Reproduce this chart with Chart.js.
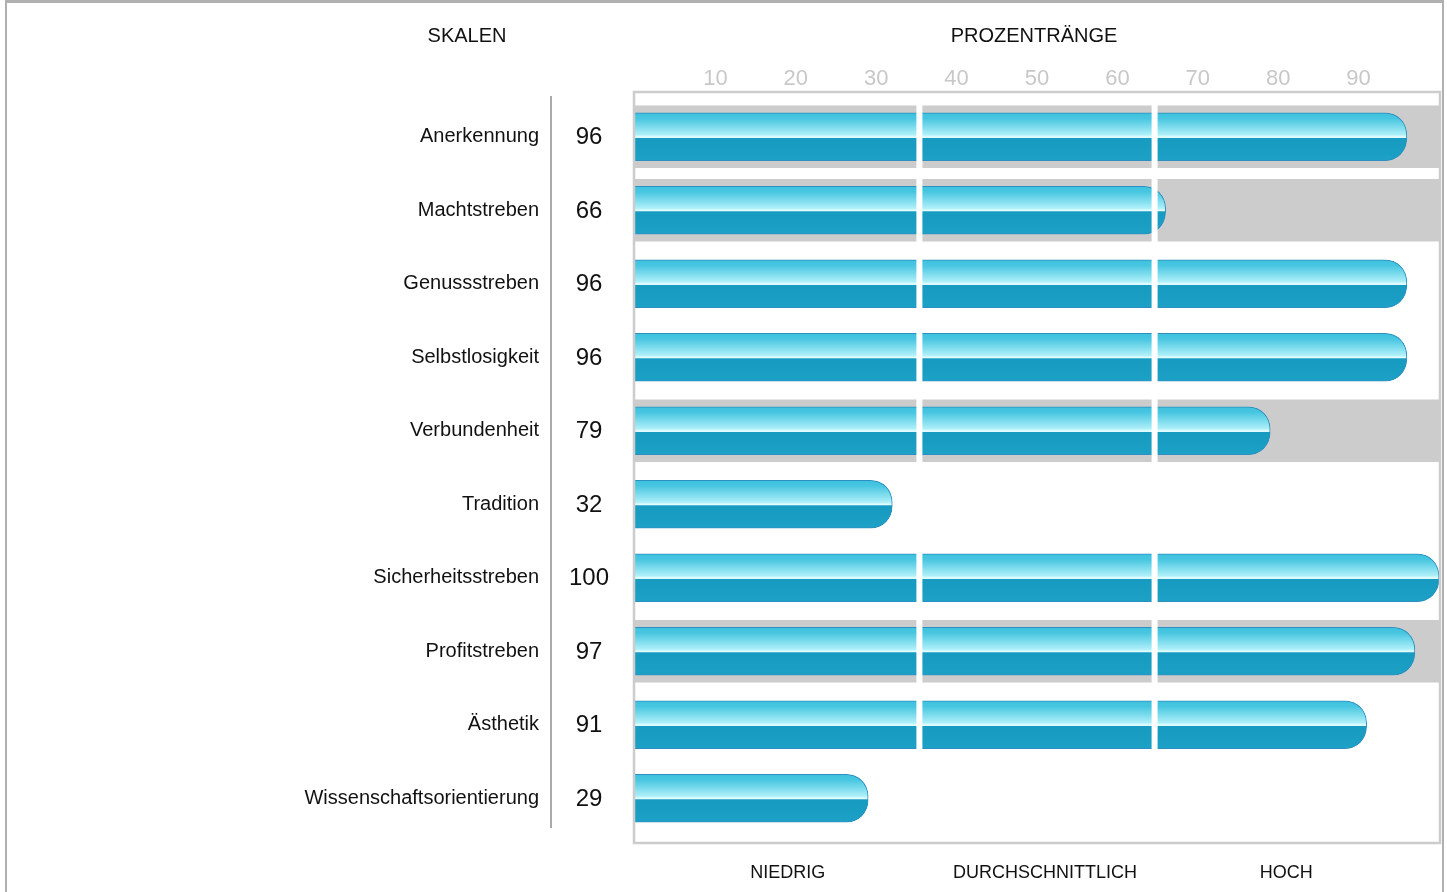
<!DOCTYPE html>
<html>
<head>
<meta charset="utf-8">
<script src="https://cdn.jsdelivr.net/npm/chart.js@4/dist/chart.umd.min.js"></script>
<style>
  html, body { margin: 0; padding: 0; background: #fff; }
  #frame {
    position: absolute; left: 5px; top: 0; width: 1435px; height: 900px;
    border-top: 3px solid #b0b0b0; border-left: 2px solid #b0b0b0; border-right: 2px solid #b0b0b0;
  }
  #chart { position: absolute; left: 0; top: 0; }
</style>
</head>
<body>
<div id="frame"></div>
<canvas id="chart" width="1447" height="892"></canvas>
<script>
const scales = ['Anerkennung', 'Machtstreben', 'Genussstreben', 'Selbstlosigkeit', 'Verbundenheit',
  'Tradition', 'Sicherheitsstreben', 'Profitstreben', 'Ästhetik', 'Wissenschaftsorientierung'];
const ranks = [96, 66, 96, 96, 79, 32, 100, 97, 91, 29];
const shaded = [true, true, false, false, true, false, false, true, false, false];
const bandLimits = [35, 65];
const bandNames = ['NIEDRIG', 'DURCHSCHNITTLICH', 'HOCH'];
const bandLabelAt = [19, 51, 81];
const rankTicks = [10, 20, 30, 40, 50, 60, 70, 80, 90];

const FONT = 'Liberation Sans, Arial, sans-serif';

function barFill(c) {
  const chart = c.chart;
  const ys = chart.scales.y;
  if (c.dataIndex === undefined || !ys) return '#1a9dc4';
  const yc = ys.getPixelForValue(c.dataIndex);
  if (!Number.isFinite(yc)) return '#1a9dc4';
  const g = chart.ctx.createLinearGradient(0, yc - 24, 0, yc + 24);
  g.addColorStop(0, '#3dc1de');
  g.addColorStop(0.12, '#48c6e1');
  g.addColorStop(0.46, '#aef0f9');
  g.addColorStop(0.49, '#d6fbff');
  g.addColorStop(0.515, '#e9fdff');
  g.addColorStop(0.53, '#189bc1');
  g.addColorStop(0.7, '#189cc2');
  g.addColorStop(1, '#1ea1c7');
  return g;
}

const extras = {
  id: 'extras',
  afterDatasetsDraw(chart) {
    const { ctx, chartArea: a } = chart;
    const xs = chart.scales.x;
    const ys = chart.scales.y;
    ctx.save();
    // white separators between the bands
    ctx.fillStyle = '#ffffff';
    const l = xs.getPixelForValue(bandLimits[0]);
    const r = xs.getPixelForValue(bandLimits[1]);
    ctx.fillRect(l, a.top, 6, a.bottom - a.top);
    ctx.fillRect(r - 6, a.top, 6, a.bottom - a.top);
    // box around plot
    ctx.strokeStyle = '#cccccc';
    ctx.lineWidth = 2.5;
    ctx.strokeRect(a.left - 1, a.top - 8, a.right - a.left + 2, a.bottom - a.top + 16);
    // separator line next to values
    ctx.strokeStyle = '#aaaaaa';
    ctx.lineWidth = 2;
    ctx.beginPath();
    ctx.moveTo(551, a.top - 4);
    ctx.lineTo(551, a.bottom - 7);
    ctx.stroke();
    // values
    ctx.fillStyle = '#111111';
    ctx.font = '24px ' + FONT;
    ctx.textAlign = 'center';
    ctx.textBaseline = 'middle';
    ranks.forEach((v, i) => {
      ctx.fillText(String(v), 589, ys.getPixelForValue(i) + 1);
    });
    // headers
    ctx.font = '20px ' + FONT;
    ctx.fillText('SKALEN', 467, 36);
    ctx.fillText('PROZENTRÄNGE', (a.left + a.right) / 2 - 3, 36);
    ctx.restore();
  }
};

new Chart(document.getElementById('chart'), {
  type: 'bar',
  data: {
    labels: scales,
    datasets: [
      {
        label: 'Prozentrang',
        data: ranks,
        backgroundColor: barFill,
        borderColor: '#2c8fbf',
        borderWidth: 1,
        borderSkipped: 'start',
        borderRadius: { topRight: 22, bottomRight: 22, topLeft: 0, bottomLeft: 0 },
        barThickness: 48,
        grouped: false,
        order: 1
      },
      {
        label: 'Hintergrund',
        data: shaded.map((s) => (s ? 100 : null)),
        backgroundColor: '#cccccc',
        borderWidth: 0,
        barThickness: 62,
        grouped: false,
        order: 2
      }
    ]
  },
  options: {
    indexAxis: 'y',
    responsive: false,
    animation: false,
    events: [],
    layout: { autoPadding: false, padding: { left: 0, right: 8, top: 0, bottom: 0 } },
    plugins: { legend: { display: false }, tooltip: { enabled: false } },
    scales: {
      x: {
        position: 'top',
        min: 0,
        max: 100,
        afterFit: (s) => { s.height = 100; s.paddingLeft = 0; s.paddingRight = 0; },
        afterBuildTicks: (s) => { s.ticks = rankTicks.map((v) => ({ value: v })); },
        grid: { display: false, drawTicks: false },
        border: { display: false },
        ticks: { color: '#c8c8c8', padding: 8, font: { family: FONT, size: 22 } }
      },
      x2: {
        position: 'bottom',
        min: 0,
        max: 100,
        afterFit: (s) => { s.height = 57; s.paddingLeft = 0; s.paddingRight = 0; },
        afterBuildTicks: (s) => { s.ticks = bandLabelAt.map((v) => ({ value: v })); },
        grid: { display: false, drawTicks: false },
        border: { display: false },
        ticks: {
          color: '#111111',
          padding: 27,
          font: { family: FONT, size: 18 },
          callback: (v, i) => bandNames[i]
        }
      },
      y: {
        afterFit: (s) => { s.width = 635; s.paddingTop = 0; s.paddingBottom = 0; },
        grid: { display: false, drawTicks: false },
        border: { display: false },
        ticks: { color: '#111111', padding: 96, font: { family: FONT, size: 20 } }
      }
    }
  },
  plugins: [extras]
});
</script>
</body>
</html>
